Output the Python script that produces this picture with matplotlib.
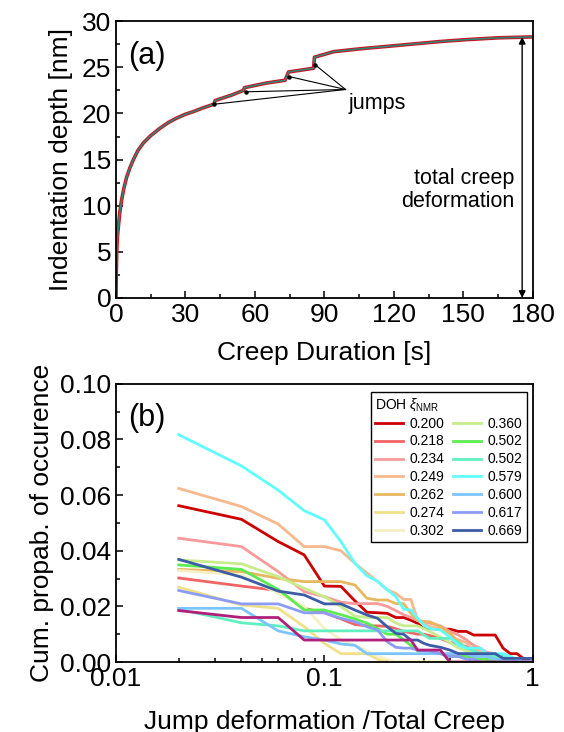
import matplotlib
matplotlib.use("Agg")
import matplotlib.pyplot as plt
import numpy as np
from matplotlib.ticker import MultipleLocator, FixedLocator, FixedFormatter, LogLocator, NullFormatter

plt.rcParams['font.family'] = ['Liberation Sans', 'DejaVu Sans']
plt.rcParams['mathtext.fontset'] = 'custom'
plt.rcParams['mathtext.rm'] = 'Liberation Sans'
plt.rcParams['mathtext.it'] = 'Liberation Sans:italic'

# panel (a): creep curve
creep_time = [0, 0.1, 0.3, 0.6, 1.0, 1.6, 2.4, 3.4, 4.6, 6, 7.5, 9.5, 11.8, 15, 19, 22.5, 26.2, 29.8, 33.4, 37.5,
              42.3, 42.8, 50, 55, 55.5, 65, 73, 74.5, 80, 85.3, 85.7, 94, 105, 122.6, 140, 151, 165, 180]
creep_depth = [0, 2.5, 5.0, 6.6, 7.7, 9.2, 10.6, 11.9, 13.1, 14.1, 15.0, 16.0, 16.8, 17.6, 18.4, 19.0, 19.5, 19.9, 20.2, 20.6,
               21.0, 21.4, 22.0, 22.5, 22.8, 23.3, 23.6, 24.5, 24.7, 24.9, 26.1, 26.7, 27.0, 27.4, 27.8, 28.0, 28.2, 28.3]
jump_time = [42.4, 56.1, 74.8, 85.9]
jump_depth = [21.0, 22.35, 24.0, 25.3]
total_depth = 28.3

# panel (b): cumulative probability of jump sizes
jump_ratio = [0.02, 0.04, 0.06, 0.08, 0.10, 0.12, 0.14, 0.16, 0.18, 0.20, 0.22, 0.24, 0.26, 0.28, 0.30,
              0.32, 0.36, 0.40, 0.44, 0.48, 0.52, 0.56, 0.60, 0.66, 0.72, 0.78, 0.84, 0.90, 0.96, 1.0]
doh_labels = ['0.200', '0.218', '0.234', '0.249', '0.262', '0.274', '0.302',
              '0.360', '0.502', '0.502', '0.579', '0.600', '0.617', '0.669']
doh_colors = ['#cc0000', '#f26464', '#f89a9a', '#f7b88e', '#e8b860', '#f0e08a', '#f6f0c4',
              '#c8ec8c', '#5cec50', '#60f0c0', '#60ffff', '#7cc4ff', '#8c9cf5', '#3c5ca8']
prob_0200 = [0.0562, 0.0513, 0.0433, 0.0385, 0.0273, 0.0272, 0.0220, 0.0179, 0.0177, 0.0175, 0.0160, 0.0160, 0.0150, 0.0139, 0.0120,
             0.0120, 0.0118, 0.0118, 0.0110, 0.0110, 0.0097, 0.0097, 0.0097, 0.0097, 0.0050, 0.0030, 0.0030, 0.0013, 0.0005, 0.0]
prob_0218 = [0.0302, 0.0273, 0.0257, 0.0193, 0.0177, 0.0155, 0.0135, 0.0130, 0.0130, 0.0128, 0.0120, 0.0110, 0.0105, 0.0100, 0.0100,
             0.0095, 0.0085, 0.0070, 0.0065, 0.0055, 0.0050, 0.0040, 0.0030, 0.0025, 0.0020, 0.0012, 0.0008, 0.0, 0.0, 0.0]
prob_0234 = [0.0445, 0.0415, 0.0325, 0.0253, 0.0235, 0.0215, 0.0210, 0.0210, 0.0210, 0.0200, 0.0185, 0.0170, 0.0160, 0.0150, 0.0145,
             0.0140, 0.0130, 0.0110, 0.0097, 0.0080, 0.0060, 0.0050, 0.0035, 0.0030, 0.0015, 0.0010, 0.0, 0.0, 0.0, 0.0]
prob_0249 = [0.0624, 0.0559, 0.0496, 0.0415, 0.0415, 0.0400, 0.0355, 0.0320, 0.0289, 0.0260, 0.0247, 0.0225, 0.0225, 0.0150, 0.0140,
             0.0127, 0.0120, 0.0090, 0.0080, 0.0070, 0.0043, 0.0040, 0.0030, 0.0030, 0.0020, 0.0, 0.0, 0.0, 0.0, 0.0]
prob_0262 = [0.0333, 0.0325, 0.0301, 0.0289, 0.0289, 0.0289, 0.0277, 0.0229, 0.0223, 0.0223, 0.0210, 0.0210, 0.0175, 0.0150, 0.0145,
             0.0145, 0.0127, 0.0103, 0.0073, 0.0050, 0.0043, 0.0030, 0.0020, 0.0020, 0.0010, 0.0, 0.0, 0.0, 0.0, 0.0]
prob_0274 = [0.0269, 0.0205, 0.0193, 0.0127, 0.0067, 0.0030, 0.0030, 0.0030, 0.0010, 0.0, 0.0, 0.0, 0.0, 0.0, 0.0,
             0.0, 0.0, 0.0, 0.0, 0.0, 0.0, 0.0, 0.0, 0.0, 0.0, 0.0, 0.0, 0.0, 0.0, 0.0]
prob_0302 = [0.0329, 0.0313, 0.0247, 0.0200, 0.0120, 0.0080, 0.0060, 0.0040, 0.0020, 0.0010, 0.0, 0.0, 0.0, 0.0, 0.0,
             0.0, 0.0, 0.0, 0.0, 0.0, 0.0, 0.0, 0.0, 0.0, 0.0, 0.0, 0.0, 0.0, 0.0, 0.0]
prob_0360 = [0.0367, 0.0353, 0.0307, 0.0265, 0.0235, 0.0200, 0.0165, 0.0160, 0.0160, 0.0160, 0.0140, 0.0130, 0.0130, 0.0130, 0.0120,
             0.0110, 0.0090, 0.0070, 0.0050, 0.0040, 0.0030, 0.0030, 0.0020, 0.0010, 0.0, 0.0, 0.0, 0.0, 0.0, 0.0]
prob_0502a = [0.0349, 0.0333, 0.0261, 0.0187, 0.0187, 0.0170, 0.0155, 0.0140, 0.0120, 0.0100, 0.0100, 0.0080, 0.0060, 0.0040, 0.0040,
              0.0040, 0.0030, 0.0020, 0.0020, 0.0020, 0.0015, 0.0010, 0.0010, 0.0, 0.0, 0.0, 0.0, 0.0, 0.0, 0.0]
prob_0502b = [0.0190, 0.0141, 0.0130, 0.0112, 0.0112, 0.0112, 0.0112, 0.0112, 0.0112, 0.0112, 0.0112, 0.0112, 0.0112, 0.0112, 0.0097,
              0.0085, 0.0085, 0.0085, 0.0070, 0.0050, 0.0040, 0.0030, 0.0030, 0.0020, 0.0020, 0.0010, 0.0, 0.0, 0.0, 0.0]
prob_0579 = [0.0817, 0.0705, 0.0618, 0.0544, 0.0511, 0.0433, 0.0355, 0.0310, 0.0290, 0.0260, 0.0235, 0.0190, 0.0187, 0.0157, 0.0133,
             0.0120, 0.0115, 0.0090, 0.0060, 0.0050, 0.0050, 0.0050, 0.0030, 0.0030, 0.0030, 0.0020, 0.0010, 0.0, 0.0, 0.0]
prob_0600 = [0.0193, 0.0193, 0.0112, 0.0091, 0.0079, 0.0065, 0.0060, 0.0030, 0.0030, 0.0030, 0.0030, 0.0030, 0.0030, 0.0030, 0.0030,
             0.0030, 0.0030, 0.0030, 0.0030, 0.0030, 0.0020, 0.0020, 0.0020, 0.0010, 0.0010, 0.0010, 0.0, 0.0, 0.0, 0.0]
prob_0617 = [0.0257, 0.0209, 0.0209, 0.0177, 0.0177, 0.0157, 0.0145, 0.0127, 0.0115, 0.0073, 0.0053, 0.0050, 0.0050, 0.0043, 0.0040,
             0.0040, 0.0030, 0.0020, 0.0020, 0.0010, 0.0010, 0.0, 0.0, 0.0, 0.0, 0.0, 0.0, 0.0, 0.0, 0.0]
prob_0669 = [0.0369, 0.0305, 0.0255, 0.0241, 0.0209, 0.0209, 0.0187, 0.0169, 0.0157, 0.0127, 0.0103, 0.0100, 0.0079, 0.0079, 0.0067,
             0.0060, 0.0053, 0.0043, 0.0030, 0.0030, 0.0030, 0.0030, 0.0030, 0.0030, 0.0013, 0.0013, 0.0013, 0.0013, 0.0013, 0.0013]
# extra curve without legend entry
prob_extra = [0.0185, 0.0160, 0.0160, 0.0079, 0.0079, 0.0079, 0.0079, 0.0079, 0.0079, 0.0079, 0.0079, 0.0079, 0.0079, 0.0043, 0.0043,
              0.0043, 0.0043, 0.0, 0.0, 0.0, 0.0, 0.0, 0.0, 0.0, 0.0, 0.0, 0.0, 0.0, 0.0, 0.0]
extra_color = '#b0207a'
all_probs = [prob_0200, prob_0218, prob_0234, prob_0249, prob_0262, prob_0274, prob_0302,
             prob_0360, prob_0502a, prob_0502b, prob_0579, prob_0600, prob_0617, prob_0669]

fig = plt.figure(figsize=(5.64, 7.32), dpi=100)
ax1 = fig.add_axes([0.2057, 0.593, 0.739, 0.378])
ax2 = fig.add_axes([0.2057, 0.0956, 0.739, 0.380])

# ---- panel (a)
ax1.plot(creep_time, creep_depth, color='#d01020', lw=2.6)
ax1.plot(creep_time, creep_depth, color='#2a8a78', lw=1.1)
hub = (99.1, 22.6)
for t, d in zip(jump_time, jump_depth):
    ax1.plot([hub[0], t], [hub[1], d], color='black', lw=0.8)
ax1.plot(jump_time, jump_depth, 'o', color='black', ms=2.2)
ax1.text(100.5, 21.1, 'jumps', fontsize=15.5, ha='left', va='center')
ax1.annotate('', xy=(175.4, 0), xytext=(175.4, total_depth),
             arrowprops=dict(arrowstyle='<|-|>', color='black', lw=1.0, mutation_scale=10, shrinkA=0, shrinkB=0))
ax1.text(172, 11.7, 'total creep\ndeformation', fontsize=15.5, ha='right', va='center', linespacing=1.15)
ax1.text(0.03, 0.93, '(a)', transform=ax1.transAxes, fontsize=22, ha='left', va='top')
ax1.set_xlim(0, 180)
ax1.set_ylim(0, 30)
ax1.xaxis.set_major_locator(MultipleLocator(30))
ax1.xaxis.set_minor_locator(MultipleLocator(15))
ax1.yaxis.set_major_locator(MultipleLocator(5))
ax1.yaxis.set_minor_locator(MultipleLocator(2.5))
ax1.set_xlabel('Creep Duration [s]', fontsize=19, labelpad=10)
ax1.set_ylabel('Indentation depth [nm]', fontsize=19, labelpad=6)

# ---- panel (b)
for lab, col, yv in zip(doh_labels, doh_colors, all_probs):
    ax2.plot(jump_ratio, yv, color=col, lw=2, label=lab)
ax2.plot(jump_ratio, prob_extra, color=extra_color, lw=2, label='_nolegend_')
ax2.set_xscale('log')
ax2.set_xlim(0.01, 1)
ax2.set_ylim(0, 0.10)
ax2.xaxis.set_major_locator(FixedLocator([0.01, 0.1, 1]))
ax2.xaxis.set_major_formatter(FixedFormatter(['0.01', '0.1', '1']))
ax2.xaxis.set_minor_locator(LogLocator(base=10, subs=np.arange(2, 10)))
ax2.xaxis.set_minor_formatter(NullFormatter())
ax2.yaxis.set_major_locator(MultipleLocator(0.02))
ax2.yaxis.set_minor_locator(MultipleLocator(0.01))
ax2.yaxis.set_major_formatter(matplotlib.ticker.FormatStrFormatter('%.2f'))
ax2.text(0.03, 0.93, '(b)', transform=ax2.transAxes, fontsize=22, ha='left', va='top')
ax2.set_xlabel('Jump deformation /Total Creep', fontsize=19, labelpad=14)
ax2.set_ylabel('Cum. propab. of occurence', fontsize=19, labelpad=4)
leg = ax2.legend(ncol=2, loc='upper right', bbox_to_anchor=(0.985, 0.972), borderaxespad=0,
                 title=r'DOH $\xi_{\rm NMR}$', title_fontsize=10, fontsize=10, alignment='left',
                 fancybox=False, edgecolor='black', framealpha=1, labelspacing=0.28,
                 handlelength=2.0, handletextpad=0.5, columnspacing=0.6, borderpad=0.3)
leg.get_frame().set_linewidth(1.0)

for ax in (ax1, ax2):
    for s in ax.spines.values():
        s.set_linewidth(1.3)
    ax.tick_params(which='both', direction='in', top=False, right=False, labelsize=19, width=1.1)
    ax.tick_params(which='major', length=5)
    ax.tick_params(which='minor', length=3)

fig.savefig('out.png', dpi=100)
